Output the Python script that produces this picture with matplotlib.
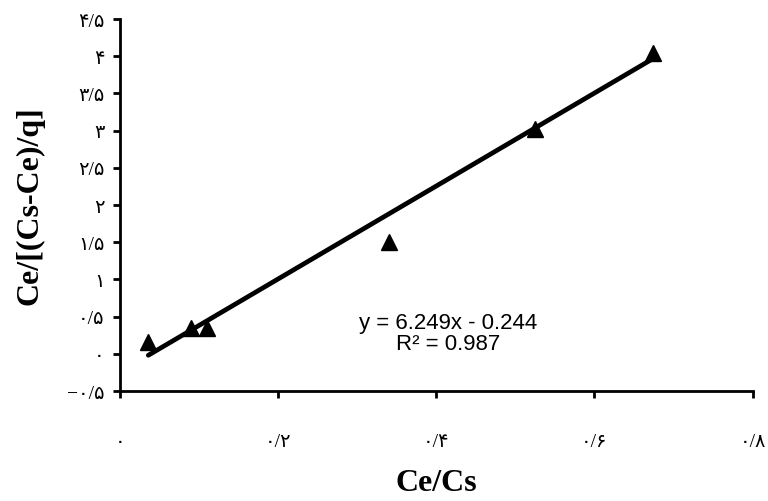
"""Ce/Cs linear fit chart"""
import matplotlib as mpl
mpl.use('Agg')  # no display
import matplotlib.pyplot as plt

# data
ce_cs = [0.036, 0.090, 0.110, 0.340, 0.525, 0.674]
ce_ratio = [0.16, 0.35, 0.35, 1.51, 3.02, 4.05]
slope, intercept = 6.249, -0.244
x_ticks = [0, 0.2, 0.4, 0.6, 0.8]
y_ticks = [-0.5, 0, 0.5, 1, 1.5, 2, 2.5, 3, 3.5, 4, 4.5]

FA_DIGITS = str.maketrans('0123456789', '۰۱۲۳۴۵۶۷۸۹')


def fa_label(val):
    """persian digits, '/' as decimal mark"""
    txt = f'{abs(val):g}'
    if txt.startswith('0.'):
        txt = '0' + txt[1:]
    txt = txt.replace('.', '/').translate(FA_DIGITS)
    return ('\u2212' if val < 0 else '') + txt


fig = plt.figure(figsize=(7.68, 5.02), dpi=100)
ax = fig.add_axes([0.156, 0.219, 0.824, 0.741])

fit_x = [min(ce_cs), max(ce_cs)]
fit_y = [slope * x + intercept for x in fit_x]
ax.plot(fit_x, fit_y, color='black', lw=3.4, solid_capstyle='round')
ax.plot(ce_cs, ce_ratio, ls='none', marker='^', ms=12, color='black')

ax.set_xlim(0, 0.8)
ax.set_ylim(-0.5, 4.5)
ax.set_xticks(x_ticks)
ax.set_yticks(y_ticks)
tick_font = dict(family=['Liberation Serif', 'DejaVu Sans'], size=14)
ax.set_xticklabels([fa_label(v) for v in x_ticks], **tick_font)
ax.set_yticklabels([fa_label(v) for v in y_ticks], **tick_font)
ax.tick_params(axis='both', direction='out', length=5, width=2)
ax.tick_params(axis='x', pad=25)
ax.tick_params(axis='y', pad=6)

for side in ('top', 'right'):
    ax.spines[side].set_visible(False)
for side in ('left', 'bottom'):
    ax.spines[side].set_linewidth(2)

label_font = dict(family='Liberation Serif', size=23, weight='bold')
ax.set_xlabel('Ce/Cs', labelpad=13, **label_font)
ax.set_ylabel('Ce/[(Cs-Ce)/q]', labelpad=16, **label_font)

ax.text(0.415, 0.28, f'y = {slope}x - {abs(intercept)}\nR\u00b2 = 0.987',
        ha='center', va='center', family='Liberation Sans', size=16,
        linespacing=1.0)

plt.savefig('out.png', dpi=100)
